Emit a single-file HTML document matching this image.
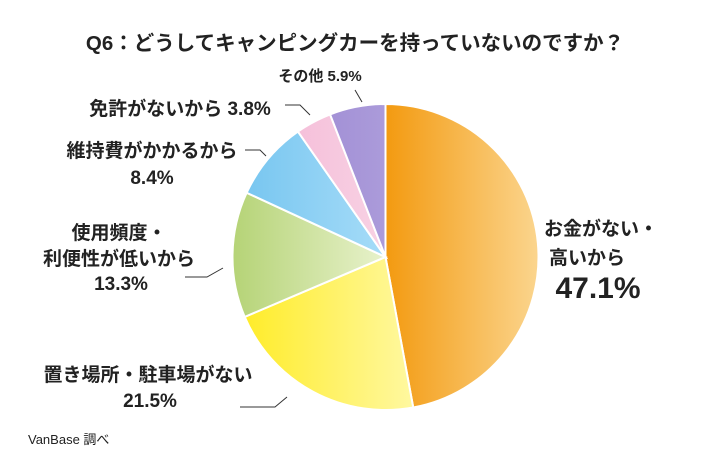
<!DOCTYPE html>
<html><head><meta charset="utf-8"><style>
body{margin:0;background:#fff;}
svg{display:block;font-family:"Liberation Sans","Noto Sans CJK JP",sans-serif;font-weight:bold;}
</style></head><body>
<svg id="chart" width="710" height="474" viewBox="0 0 710 474">
<defs>
<linearGradient id="g0" x1="0" x2="1"><stop offset="0" stop-color="#f39a10"/><stop offset="1" stop-color="#fbd58e"/></linearGradient>
<linearGradient id="g1" x1="0" x2="1"><stop offset="0" stop-color="#ffec2a"/><stop offset="1" stop-color="#fff8a0"/></linearGradient>
<linearGradient id="g2" x1="0" x2="1"><stop offset="0" stop-color="#b5d376"/><stop offset="1" stop-color="#e8f2cc"/></linearGradient>
<linearGradient id="g3" x1="0" x2="1"><stop offset="0" stop-color="#78c6f0"/><stop offset="1" stop-color="#a6dcf8"/></linearGradient>
<linearGradient id="g4" x1="0" x2="1"><stop offset="0" stop-color="#f5c0da"/><stop offset="1" stop-color="#f8d2e4"/></linearGradient>
<linearGradient id="g5" x1="0" x2="1"><stop offset="0" stop-color="#a391d6"/><stop offset="1" stop-color="#ab9bda"/></linearGradient>
</defs>
<text x="355" y="50" text-anchor="middle" font-size="20.5" fill="#222">Q6：どうしてキャンピングカーを持っていないのですか？</text>
<g id="slices"></g>
<g stroke="#333" stroke-width="1" fill="none">
<polyline points="355,90 362,102"/>
<polyline points="285,105 300,105 310,115"/>
<polyline points="245,150 260,150 266,156"/>
<polyline points="185,277 207,277 223,268"/>
<polyline points="240,407 275,407 287,397"/>
</g>
<g fill="#222" font-size="19" text-anchor="middle">
<text x="320" y="81" font-size="15">その他 5.9%</text>
<text x="180" y="115">免許がないから 3.8%</text>
<text x="152" y="157">維持費がかかるから</text>
<text x="152" y="184">8.4%</text>
<text x="119" y="239">使用頻度・</text>
<text x="119" y="265">利便性が低いから</text>
<text x="121" y="290">13.3%</text>
<text x="148" y="381">置き場所・駐車場がない</text>
<text x="150" y="407">21.5%</text>
<text x="601" y="235">お金がない・</text>
<text x="587" y="264">高いから</text>
<text x="598" y="298" font-size="30">47.1%</text>
</g>
<text x="28" y="444" font-size="13" font-weight="normal" fill="#222">VanBase 調べ</text>
</svg>
<script>
const categories=["お金がない・高いから","置き場所・駐車場がない","使用頻度・利便性が低いから","維持費がかかるから","免許がないから","その他"];
const values=[47.1,21.5,13.3,8.4,3.8,5.9];
const cx=385.5,cy=257,r=153;
const g=document.getElementById('slices');
const total=values.reduce((a,b)=>a+b,0);
let a0=0;
values.forEach((v,i)=>{
  const a1=a0+v/total*Math.PI*2;
  const x0=cx+r*Math.sin(a0),y0=cy-r*Math.cos(a0),x1=cx+r*Math.sin(a1),y1=cy-r*Math.cos(a1);
  const p=document.createElementNS('http://www.w3.org/2000/svg','path');
  p.setAttribute('d',`M${cx},${cy}L${x0},${y0}A${r},${r} 0 ${a1-a0>Math.PI?1:0} 1 ${x1},${y1}Z`);
  p.setAttribute('fill',`url(#g${i})`);
  p.setAttribute('stroke','#fff');
  p.setAttribute('stroke-width','2');
  
  
  g.appendChild(p);
  a0=a1;
});
</script>
</body></html>
